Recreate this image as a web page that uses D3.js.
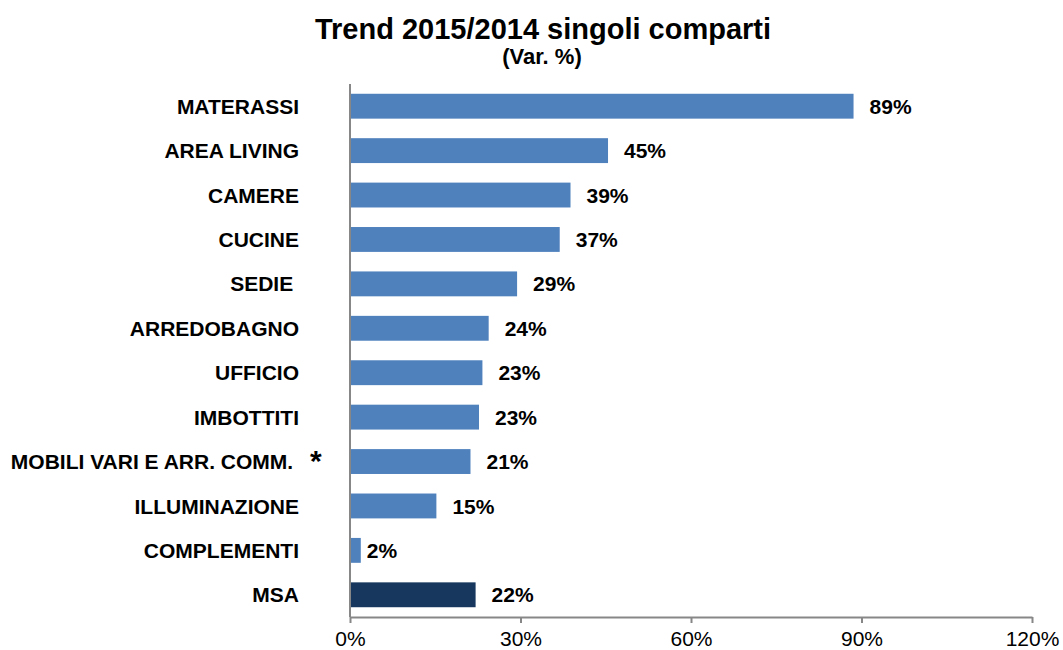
<!DOCTYPE html>
<html>
<head>
<meta charset="utf-8">
<script src="https://cdn.jsdelivr.net/npm/d3@7"></script>
<style>
  html, body { margin: 0; padding: 0; background: #ffffff; }
  svg { display: block; font-family: "Liberation Sans", Arial, sans-serif; }
</style>
</head>
<body>
<svg id="chart" width="1063" height="650"></svg>
<script>
const categories = ["MATERASSI", "AREA LIVING", "CAMERE", "CUCINE", "SEDIE ", "ARREDOBAGNO",
  "UFFICIO", "IMBOTTITI", "MOBILI VARI E ARR. COMM. ", "ILLUMINAZIONE", "COMPLEMENTI", "MSA"];
const values = [88.6, 45.4, 38.8, 36.9, 29.4, 24.4, 23.3, 22.7, 21.2, 15.2, 1.9, 22.1];
const valueLabels = ["89%", "45%", "39%", "37%", "29%", "24%", "23%", "23%", "21%", "15%", "2%", "22%"];
const tickValues = [0, 30, 60, 90, 120];
const titleText = "Trend 2015/2014 singoli comparti";
const subtitleText = "(Var. %)";
const highlighted = ["MSA"];
const footnoteMark = { category: "MOBILI VARI E ARR. COMM. ", mark: "*" };

const data = categories.map((c, i) => ({ cat: c, value: values[i], label: valueLabels[i] }));

const svg = d3.select("#chart");
const mLeft = 350, mRight = 1032, mTop = 84, mBottom = 617;

const x = d3.scaleLinear().domain([0, 120]).range([mLeft, mRight]);
const y = d3.scaleBand().domain(categories).range([mTop, mBottom]).paddingInner(0.44).paddingOuter(0.22);

// title
svg.append("text").attr("x", 543).attr("y", 39).attr("text-anchor", "middle")
  .attr("font-size", 29).attr("font-weight", "bold").attr("fill", "#000").text(titleText);
svg.append("text").attr("x", 542).attr("y", 64).attr("text-anchor", "middle")
  .attr("font-size", 22).attr("font-weight", "bold").attr("fill", "#000").text(subtitleText);

// bars
svg.append("g").selectAll("rect").data(data).join("rect")
  .attr("x", x(0))
  .attr("y", d => y(d.cat))
  .attr("width", d => x(d.value) - x(0))
  .attr("height", y.bandwidth())
  .attr("fill", d => highlighted.includes(d.cat) ? "#17375E" : "#4F81BD");

// value labels
svg.append("g").selectAll("text").data(data).join("text")
  .attr("x", d => x(d.value) + (d.value < 5 ? 6 : 16))
  .attr("y", d => y(d.cat) + y.bandwidth() / 2)
  .attr("dy", "0.36em")
  .attr("font-size", 21).attr("font-weight", "bold").attr("fill", "#000")
  .text(d => d.label);

// category labels
svg.append("g").selectAll("text").data(data).join("text")
  .attr("x", 299)
  .attr("y", d => y(d.cat) + y.bandwidth() / 2)
  .attr("dy", "0.36em")
  .attr("text-anchor", "end")
  .style("white-space", "pre")
  .attr("font-size", 21).attr("font-weight", "bold").attr("fill", "#000")
  .text(d => d.cat);

// footnote mark
svg.append("text")
  .attr("x", 310)
  .attr("y", y(footnoteMark.category) + y.bandwidth() / 2 + 9)
  .attr("font-size", 30).attr("font-weight", "bold").attr("fill", "#000")
  .text(footnoteMark.mark);

// x axis
const xAxis = d3.axisBottom(x).tickValues(tickValues).tickFormat(d => d + "%").tickSize(6).tickSizeOuter(0);
const gx = svg.append("g").attr("transform", `translate(0,${mBottom})`).call(xAxis);
gx.select(".domain").attr("stroke", "#878787").attr("stroke-width", 2);
gx.selectAll(".tick line").attr("stroke", "#878787").attr("stroke-width", 2);
gx.selectAll(".tick text").attr("font-size", 21).attr("font-family", "Liberation Sans, Arial, sans-serif")
  .attr("fill", "#000").attr("dy", null).attr("y", 29);

// y axis line
svg.append("line").attr("x1", mLeft).attr("x2", mLeft).attr("y1", mTop).attr("y2", mBottom)
  .attr("stroke", "#878787").attr("stroke-width", 2);
</script>
</body>
</html>
